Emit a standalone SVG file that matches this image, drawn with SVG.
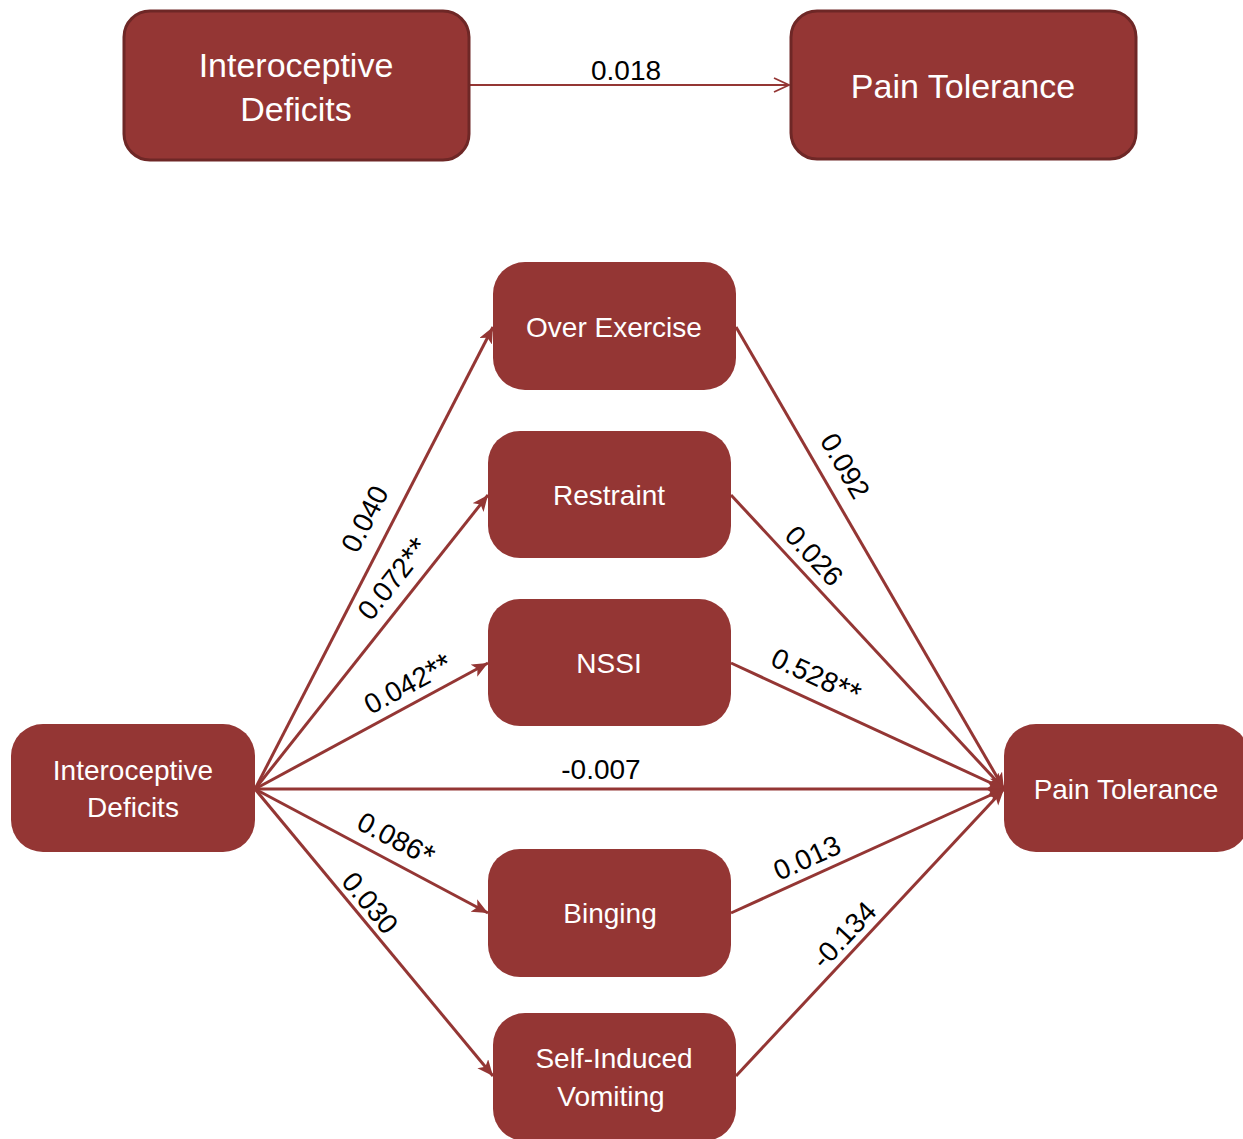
<svg xmlns="http://www.w3.org/2000/svg" width="1243" height="1139" viewBox="0 0 1243 1139">
<style>
.box{fill:#943634}
.topbox{fill:#943634;stroke:#6e2726;stroke-width:3}
.nt{fill:#ffffff;font-family:"Liberation Sans",Arial,sans-serif;text-anchor:middle;dominant-baseline:central}
.big{font-size:34px}
.mid{font-size:28px}
.edge{stroke:#943634;stroke-width:3;fill:none;marker-end:url(#ah)}
.lbl{fill:#000000;font-family:"Liberation Sans",Arial,sans-serif;font-size:28px;text-anchor:middle;dominant-baseline:central}
.st{font-size:32px}
</style>
<defs>
<marker id="ah" markerUnits="userSpaceOnUse" markerWidth="20" markerHeight="16" refX="16" refY="7" orient="auto">
<path d="M0,0 L16,7 L0,14 L4,7 z" fill="#943634"/>
</marker>
<marker id="ah2" markerUnits="userSpaceOnUse" markerWidth="20" markerHeight="18" refX="16" refY="8" orient="auto">
<path d="M1,1 L16,8 L1,15" fill="none" stroke="#943634" stroke-width="1.8"/>
</marker>
</defs>

<g id="connectors">
<line x1="469" y1="85" x2="789" y2="85" stroke="#943634" stroke-width="1.8" marker-end="url(#ah2)"/>
<line class="edge" x1="255" y1="789" x2="493" y2="327"/>
<line class="edge" x1="255" y1="789" x2="488" y2="495"/>
<line class="edge" x1="255" y1="789" x2="488" y2="663"/>
<line class="edge" x1="255" y1="789" x2="1004" y2="789"/>
<line class="edge" x1="255" y1="789" x2="488" y2="913"/>
<line class="edge" x1="255" y1="789" x2="493" y2="1076"/>
<line class="edge" x1="736" y1="327" x2="1004" y2="789"/>
<line class="edge" x1="731" y1="495" x2="1004" y2="789"/>
<line class="edge" x1="731" y1="663" x2="1004" y2="789"/>
<line class="edge" x1="731" y1="913" x2="1004" y2="789"/>
<line class="edge" x1="736" y1="1076" x2="1004" y2="789"/>
<text class="lbl" x="626" y="70">0.018</text>
<text class="lbl" transform="translate(365,519) rotate(-62.7)">0.040</text>
<text class="lbl" transform="translate(393,579) rotate(-51.6)">0.072<tspan class="st">**</tspan></text>
<text class="lbl" transform="translate(408,684) rotate(-28.4)">0.042<tspan class="st">**</tspan></text>
<text class="lbl" x="601" y="769">-0.007</text>
<text class="lbl" transform="translate(396,839) rotate(28)">0.086<tspan class="st">*</tspan></text>
<text class="lbl" transform="translate(370,903) rotate(50.3)">0.030</text>
<text class="lbl" transform="translate(845,466) rotate(59.9)">0.092</text>
<text class="lbl" transform="translate(814,556) rotate(47.1)">0.026</text>
<text class="lbl" transform="translate(816,676) rotate(24.8)">0.528<tspan class="st">**</tspan></text>
<text class="lbl" transform="translate(807,858) rotate(-24.4)">0.013</text>
<text class="lbl" transform="translate(844,935) rotate(-46.9)">-0.134</text>
</g>

<g id="top-interoceptive">
<rect class="topbox" x="124" y="11" width="345" height="149" rx="26"/>
<text class="nt big" x="296" y="65">Interoceptive</text>
<text class="nt big" x="296" y="109">Deficits</text>
</g>
<g id="top-pain">
<rect class="topbox" x="791" y="11" width="345" height="148" rx="26"/>
<text class="nt big" x="963" y="86">Pain Tolerance</text>
</g>

<g id="over-exercise">
<rect class="box" x="493" y="262" width="243" height="128" rx="32"/>
<text class="nt mid" x="614" y="327">Over Exercise</text>
</g>
<g id="restraint">
<rect class="box" x="488" y="431" width="243" height="127" rx="32"/>
<text class="nt mid" x="609" y="495">Restraint</text>
</g>
<g id="nssi">
<rect class="box" x="488" y="599" width="243" height="127" rx="32"/>
<text class="nt mid" x="609" y="663">NSSI</text>
</g>
<g id="interoceptive">
<rect class="box" x="11" y="724" width="244" height="128" rx="32"/>
<text class="nt mid" x="133" y="770">Interoceptive</text>
<text class="nt mid" x="133" y="807">Deficits</text>
</g>
<g id="pain-tolerance">
<rect class="box" x="1004" y="724" width="245" height="128" rx="32"/>
<text class="nt mid" x="1126" y="789">Pain Tolerance</text>
</g>
<g id="binging">
<rect class="box" x="488" y="849" width="243" height="128" rx="32"/>
<text class="nt mid" x="610" y="913">Binging</text>
</g>
<g id="self-induced-vomiting">
<rect class="box" x="493" y="1013" width="243" height="128" rx="32"/>
<text class="nt mid" x="614" y="1058">Self-Induced</text>
<text class="nt mid" x="611" y="1096">Vomiting</text>
</g>
</svg>
